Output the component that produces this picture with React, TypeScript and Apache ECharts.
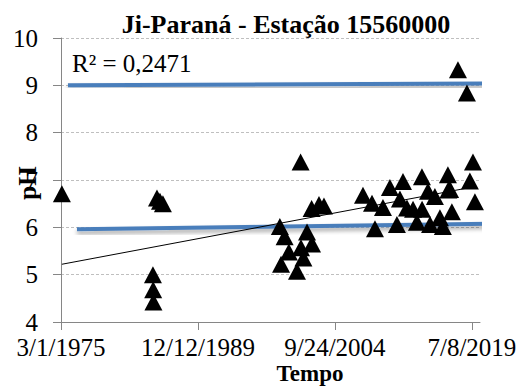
import React, { useEffect, useRef } from "react";
import * as echarts from "echarts";

// Sampling dates (ISO) and measured pH at station 15560000
const sampleDates: string[] = [
  "1975-04-05",
  "1985-02-01", "1985-02-10", "1985-02-20",
  "1985-07-10", "1985-11-05", "1986-03-01",
  "1998-10-15", "1998-12-01", "1999-04-20", "1999-10-05", "2000-08-20",
  "2001-01-25", "2001-05-01", "2001-09-20", "2002-04-05",
  "2001-01-10",
  "2002-03-20", "2003-01-05", "2003-07-20",
  "2007-10-05", "2008-09-25", "2009-01-20", "2009-12-01", "2010-09-01",
  "2011-06-05", "2011-10-01", "2012-01-30", "2012-07-05", "2013-03-01",
  "2013-08-01", "2014-02-15", "2014-02-20", "2014-10-10", "2015-01-01",
  "2015-07-10", "2016-01-25", "2016-05-20", "2016-12-05", "2016-12-20",
  "2017-03-01", "2017-05-10", "2018-01-05", "2018-12-25", "2019-04-20",
  "2019-08-20", "2019-11-05",
];
const phValues: number[] = [
  6.71,
  5.0, 4.68, 4.42,
  6.62, 6.55, 6.5,
  6.02, 5.22, 5.8, 5.48, 5.07,
  5.57, 5.35, 5.9, 5.65,
  7.38,
  6.4, 6.48, 6.45,
  6.68, 6.51, 5.97, 6.42, 6.84,
  6.06, 6.6, 6.97, 6.41, 6.38,
  6.11, 7.07, 6.38, 6.76, 6.06,
  6.65, 6.2, 6.02, 7.11, 6.79,
  6.8, 6.33, 9.33, 8.84, 6.98,
  7.38, 6.54,
];

// Linear trend endpoints
const trendDates: string[] = ["1975-04-05", "2019-11-05"];
const trendValues: number[] = [5.22, 6.86];

// Reference limits (pH 6 and pH 9)
const upperLimitDates: string[] = ["1975-12-01", "2021-02-20"];
const upperLimitValues: number[] = [9.0, 9.04];
const lowerLimitDates: string[] = ["1976-11-20", "2022-07-15"];
const lowerLimitValues: number[] = [5.96, 6.08];

// Axis ticks
const xTickDates: string[] = ["1975-03-01", "1989-12-12", "2004-09-24", "2019-07-08"];
const yTicks: number[] = [4, 5, 6, 7, 8, 9, 10];

const BASE = Date.UTC(1975, 2, 1);
const DAY = 86400000;
const dayOf = (iso: string) => Math.round((Date.parse(iso) - BASE) / DAY);
const fmtDay = (d: number) => {
  const dt = new Date(BASE + d * DAY);
  return `${dt.getUTCMonth() + 1}/${dt.getUTCDate()}/${dt.getUTCFullYear()}`;
};
const pairs = (dates: string[], vals: number[]) => dates.map((d, i) => [dayOf(d), vals[i]]);

const SERIF = "Liberation Serif";

export default function App() {
  const ref = useRef<HTMLDivElement>(null);

  useEffect(() => {
    if (!ref.current) return;
    const chart = echarts.init(ref.current, null, { renderer: "svg" });
    const xTicks = xTickDates.map(dayOf);
    const limitStyle = {
      color: "#4A7EBB",
      width: 4,
      shadowColor: "rgba(0,0,0,0.35)",
      shadowBlur: 4,
      shadowOffsetY: 3,
    };
    const txt = (text: string, size: number, bold: boolean, align: string) => ({
      text,
      fontFamily: SERIF,
      fontSize: size,
      fontWeight: bold ? "bold" : "normal",
      fill: "#000",
      align,
      verticalAlign: "middle",
    });
    chart.setOption({
      animation: false,
      backgroundColor: "#ffffff",
      grid: { left: 61, right: 49, top: 38, bottom: 66, containLabel: false },
      xAxis: {
        type: "value",
        min: 0,
        max: 16520,
        interval: 5400,
        axisLine: { show: true, lineStyle: { color: "#868686", width: 1 } },
        axisTick: { show: true, length: 8, customValues: xTicks, lineStyle: { color: "#868686" } },
        axisLabel: {
          customValues: xTicks,
          formatter: (v: number) => fmtDay(v),
          fontFamily: SERIF,
          fontSize: 25,
          color: "#000",
          margin: 13,
        },
        splitLine: { show: false },
      },
      yAxis: {
        type: "value",
        min: yTicks[0],
        max: yTicks[yTicks.length - 1],
        interval: 1,
        axisLine: { show: true, lineStyle: { color: "#868686", width: 1 } },
        axisTick: { show: true, length: 8, lineStyle: { color: "#868686" } },
        axisLabel: { fontFamily: SERIF, fontSize: 25, color: "#000", margin: 23 },
        splitLine: { show: true, lineStyle: { color: "#bfbfbf", type: [3, 2], width: 1 } },
      },
      series: [
        {
          type: "line",
          data: pairs(upperLimitDates, upperLimitValues),
          symbol: "none",
          clip: false,
          lineStyle: limitStyle,
          z: 2,
        },
        {
          type: "line",
          data: pairs(lowerLimitDates, lowerLimitValues),
          symbol: "none",
          clip: false,
          lineStyle: limitStyle,
          z: 2,
        },
        {
          type: "scatter",
          data: pairs(sampleDates, phValues),
          symbol: "triangle",
          symbolSize: [18, 17],
          itemStyle: { color: "#000", opacity: 1 },
          z: 3,
        },
        {
          type: "line",
          data: pairs(trendDates, trendValues),
          symbol: "none",
          lineStyle: { color: "#000", width: 1 },
          z: 4,
        },
      ],
      graphic: [
        { type: "text", x: 286, y: 24, style: txt("Ji-Paraná - Estação 15560000", 26, true, "center") },
        { type: "text", x: 72, y: 63, style: txt("R² = 0,2471", 25, false, "left") },
        { type: "text", x: 310, y: 373, style: txt("Tempo", 23, true, "center") },
        { type: "text", x: 27, y: 183, rotation: Math.PI / 2, style: txt("pH", 25, true, "center") },
      ],
    });
    return () => chart.dispose();
  }, []);

  return <div ref={ref} style={{ width: 529, height: 388, position: "absolute", left: 0, top: 0 }} />;
}
